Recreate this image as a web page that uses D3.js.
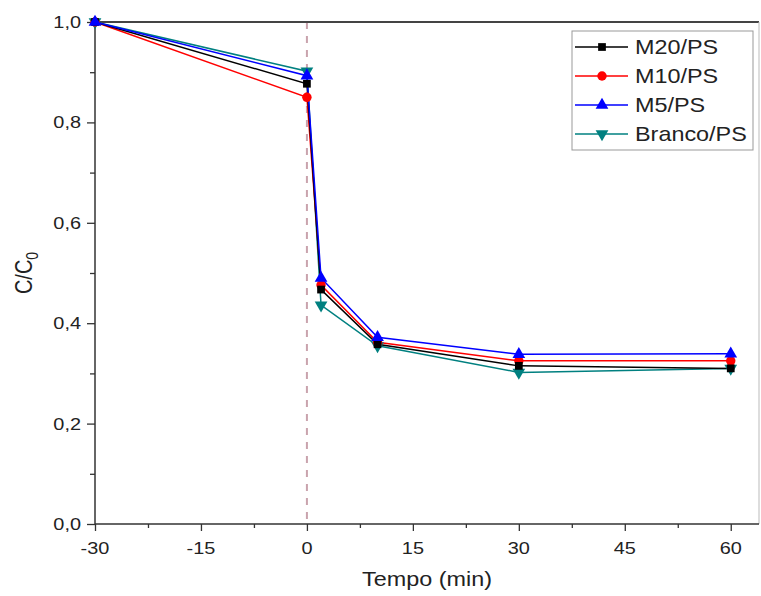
<!DOCTYPE html>
<html>
<head>
<meta charset="utf-8">
<script src="https://cdn.jsdelivr.net/npm/d3@7"></script>
<style>
  body { margin: 0; background: #fff; }
  text { font-family: "Liberation Sans", Arial, sans-serif; fill: #222; }
</style>
</head>
<body>
<script>
// dados
const tempo = [-30, 0, 2, 10, 30, 60];
const m20 = [1.0, 0.877, 0.467, 0.358, 0.315, 0.310];
const m10 = [1.0, 0.850, 0.476, 0.362, 0.325, 0.325];
const m5 = [1.0, 0.893, 0.490, 0.372, 0.338, 0.339];
const branco = [1.0, 0.902, 0.436, 0.355, 0.302, 0.310];
const seriesNames = ["M20/PS", "M10/PS", "M5/PS", "Branco/PS"];
const xTicks = [-30, -15, 0, 15, 30, 45, 60];
const yTicks = [0, 0.2, 0.4, 0.6, 0.8, 1.0];

const series = [
  { name: seriesNames[0], values: m20, color: "#000000", symbol: d3.symbolSquare, size: 60 },
  { name: seriesNames[1], values: m10, color: "#ff0000", symbol: d3.symbolCircle, size: 70 },
  { name: seriesNames[2], values: m5, color: "#0000ff", symbol: d3.symbolTriangle, size: 70, rot: 0 },
  { name: seriesNames[3], values: branco, color: "#008080", symbol: d3.symbolTriangle, size: 70, rot: 180 }
];

const W = 761, H = 596;
const sx = 1.17; // texto um pouco esticado na horizontal

const svg = d3.select("body").append("svg")
  .attr("width", W)
  .attr("height", H);

const x = d3.scaleLinear().domain([-30, 64]).range([95, 759]);
const y = d3.scaleLinear().domain([0, 1]).range([524, 22]);

function stretchedText(g, tx, ty, str, size, anchor) {
  return g.append("text")
    .attr("transform", `translate(${tx},${ty}) scale(${sx},1)`)
    .attr("text-anchor", anchor)
    .attr("font-size", size + "px")
    .text(str);
}

// linha tracejada em t = 0
svg.append("line")
  .attr("x1", x(0)).attr("x2", x(0))
  .attr("y1", y(1)).attr("y2", y(0))
  .attr("stroke", "#c9a3ad")
  .attr("stroke-width", 2)
  .attr("stroke-dasharray", "7,7");

// moldura superior / direita
svg.append("line")
  .attr("x1", x(-30)).attr("x2", 759)
  .attr("y1", y(1)).attr("y2", y(1))
  .attr("stroke", "#444").attr("stroke-width", 2);
svg.append("line")
  .attr("x1", 759).attr("x2", 759)
  .attr("y1", y(1)).attr("y2", y(0))
  .attr("stroke", "#bbb").attr("stroke-width", 1);

// eixos
const gx = svg.append("g").attr("transform", `translate(0,${y(0)})`);
gx.call(d3.axisBottom(x).tickValues(d3.range(-30, 64, 7.5)).tickSize(5).tickFormat(""));
gx.select(".domain").attr("stroke", "#333").attr("stroke-width", 1.5).attr("d", `M${x(-30)},0H759`);
gx.selectAll(".tick line").attr("stroke", "#333").attr("stroke-width", 1.3)
  .attr("y2", d => (d % 15 === 0 ? 7 : 4));
xTicks.forEach(t => stretchedText(svg, x(t), 554, String(t), 17, "middle"));

const gy = svg.append("g").attr("transform", `translate(${x(-30)},0)`);
gy.call(d3.axisLeft(y).tickValues(d3.range(0, 1.01, 0.1)).tickSize(5).tickFormat(""));
gy.select(".domain").attr("stroke", "#333").attr("stroke-width", 1.5).attr("d", `M0,${y(0)}V${y(1)}`);
gy.selectAll(".tick line").attr("stroke", "#333").attr("stroke-width", 1.3)
  .attr("x2", (d, i) => (i % 2 === 0 ? -8 : -5));
yTicks.forEach(t => stretchedText(svg, 81, y(t) + 6, d3.format(".1f")(t).replace(".", ","), 17, "end"));

// titulos dos eixos
stretchedText(svg, (x(-30) + 759) / 2, 586, "Tempo (min)", 20, "middle");
const yl = svg.append("text")
  .attr("transform", `translate(32,${y(0.5)}) rotate(-90) scale(1,${sx})`)
  .attr("text-anchor", "middle")
  .attr("font-size", "20px");
yl.append("tspan").text("C/C");
yl.append("tspan").attr("font-size", "14px").attr("dy", 5).text("0");

// series
const line = d3.line().x((d, i) => x(tempo[i])).y(d => y(d));
const order = [3, 1, 0, 2];
order.forEach(k => {
  const s = series[k];
  svg.append("path")
    .datum(s.values)
    .attr("fill", "none")
    .attr("stroke", s.color)
    .attr("stroke-width", 1.5)
    .attr("d", line);
});
order.forEach(k => {
  const s = series[k];
  svg.selectAll(null)
    .data(s.values)
    .enter()
    .append("path")
    .attr("d", d3.symbol().type(s.symbol).size(s.size))
    .attr("transform", (d, i) => `translate(${x(tempo[i])},${y(d)}) rotate(${s.rot || 0})`)
    .attr("fill", s.color);
});

// legenda
const leg = svg.append("g");
leg.append("rect")
  .attr("x", 572).attr("y", 31)
  .attr("width", 181).attr("height", 119)
  .attr("fill", "#fff")
  .attr("stroke", "#999").attr("stroke-width", 1);
series.forEach((s, i) => {
  const ly = 47 + i * 29;
  leg.append("line")
    .attr("x1", 575).attr("x2", 628)
    .attr("y1", ly).attr("y2", ly)
    .attr("stroke", s.color).attr("stroke-width", 1.5);
  leg.append("path")
    .attr("d", d3.symbol().type(s.symbol).size(s.size))
    .attr("transform", `translate(602,${ly}) rotate(${s.rot || 0})`)
    .attr("fill", s.color);
  stretchedText(leg, 635, ly + 7, s.name, 20, "start");
});
</script>
</body>
</html>
